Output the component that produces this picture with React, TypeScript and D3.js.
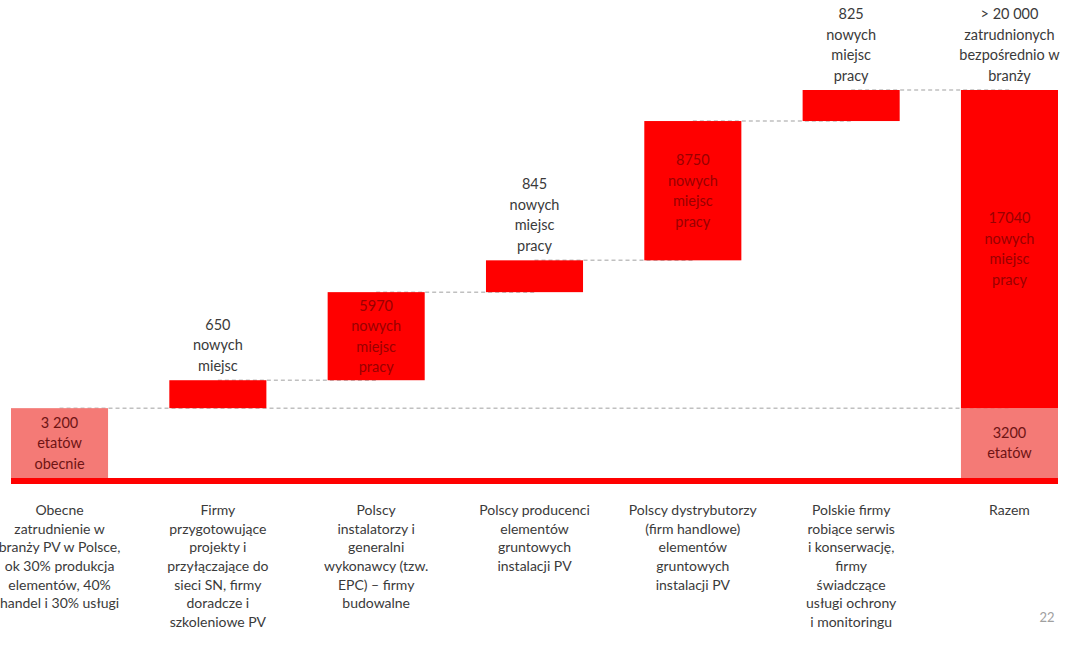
import React from "react";
import * as d3 from "d3";

// ---- data ----
const categories = [
  ["Obecne", "zatrudnienie  w", "branży PV w Polsce,", "ok 30% produkcja", "elementów, 40%", "handel i 30% usługi"],
  ["Firmy", "przygotowujące", "projekty i", "przyłączające do", "sieci SN, firmy", "doradcze i", "szkoleniowe PV"],
  ["Polscy", "instalatorzy i", "generalni", "wykonawcy  (tzw.", "EPC) – firmy", "budowalne"],
  ["Polscy producenci", "elementów", "gruntowych", "instalacji PV"],
  ["Polscy dystrybutorzy", "(firm handlowe)", "elementów", "gruntowych", "instalacji PV"],
  ["Polskie firmy", "robiące serwis", "i konserwację,", "firmy", "świadczące", "usługi ochrony", "i monitoringu"],
  ["Razem"],
];

// drawn step sizes (share of the total column height, as pictured — chart is not to scale)
const plottedSteps = [18.0, 7.2, 22.7, 8.2, 35.9, 8.0];

const stepTexts = [
  ["3 200", "etatów", "obecnie"],
  ["650", "nowych", "miejsc"],
  ["5970", "nowych", "miejsc", "pracy"],
  ["845", "nowych", "miejsc", "pracy"],
  ["8750", "nowych", "miejsc", "pracy"],
  ["825", "nowych", "miejsc", "pracy"],
];
const stepTextInside = [true, false, true, false, true, false];

const totalTopText = ["> 20 000", "zatrudnionych", "bezpośrednio w", "branży"];
const totalNewText = ["17040", "nowych", "miejsc", "pracy"];
const totalBaseText = ["3200", "etatów"];
const pageNumber = "22";

// ---- styles ----
const W = 1071;
const H = 645;
const RED = "#FF0000";
const SALMON = "#F47A76";
const FONT = "Lato, 'Open Sans', sans-serif";
const GREY_TEXT = "#3A3A3A";

export default function App() {
  const x = d3
    .scaleBand<number>()
    .domain(d3.range(categories.length))
    .range([11, 1058])
    .paddingInner(0.387)
    .paddingOuter(0);

  const total = d3.sum(plottedSteps);
  const y = d3.scaleLinear().domain([0, total]).range([478, 90]);

  const cum: number[] = [];
  plottedSteps.reduce((acc, v, i) => {
    cum[i] = acc;
    return acc + v;
  }, 0);

  const bw = x.bandwidth();
  const lh = 20.5;
  const last = categories.length - 1;
  const base = plottedSteps[0];

  const centeredLines = (lines: string[], cx: number, cy: number, fill: string, key: string) => {
    const start = cy - ((lines.length - 1) * lh) / 2;
    return (
      <text key={key} textAnchor="middle" fontFamily={FONT} fontSize={14.5} fill={fill}>
        {lines.map((l, j) => (
          <tspan key={j} x={cx} y={start + j * lh} dy="0.35em">
            {l}
          </tspan>
        ))}
      </text>
    );
  };

  const aboveLines = (lines: string[], cx: number, top: number, key: string) => {
    const lastY = top - 14.5;
    return (
      <text key={key} textAnchor="middle" fontFamily={FONT} fontSize={14.5} fill={GREY_TEXT}>
        {lines.map((l, j) => (
          <tspan key={j} x={cx} y={lastY - (lines.length - 1 - j) * lh} dy="0.35em">
            {l}
          </tspan>
        ))}
      </text>
    );
  };

  const cx = (i: number) => (x(i) as number) + bw / 2;

  return (
    <div style={{ position: "absolute", left: 0, top: 0 }}>
      <svg width={W} height={H} viewBox={`0 0 ${W} ${H}`} style={{ display: "block", background: "#fff" }}>
        {/* connectors */}
        <g stroke="#C0C0C0" strokeWidth={1.5} strokeDasharray="4 3" fill="none">
          <line x1={cx(0)} x2={cx(last)} y1={y(base)} y2={y(base)} />
          {plottedSteps.slice(1).map((v, k) => {
            const i = k + 1;
            const lvl = cum[i] + v;
            return <line key={i} x1={cx(i)} x2={cx(i + 1)} y1={y(lvl)} y2={y(lvl)} />;
          })}
        </g>

        {/* step bars */}
        {plottedSteps.map((v, i) => (
          <rect
            key={i}
            x={x(i)}
            width={bw}
            y={y(cum[i] + v)}
            height={y(cum[i]) - y(cum[i] + v)}
            fill={i === 0 ? SALMON : RED}
          />
        ))}

        {/* total bar */}
        <rect x={x(last)} width={bw} y={y(base)} height={y(0) - y(base)} fill={SALMON} />
        <rect x={x(last)} width={bw} y={y(total)} height={y(base) - y(total)} fill={RED} />

        {/* baseline */}
        <rect x={11} width={1047} y={y(0)} height={6} fill={RED} />

        {/* step labels */}
        {stepTexts.map((lines, i) => {
          const top = y(cum[i] + plottedSteps[i]);
          const bot = y(cum[i]);
          if (stepTextInside[i]) {
            return centeredLines(lines, cx(i), (top + bot) / 2, i === 0 ? "#6E1414" : "#990000", `s${i}`);
          }
          return aboveLines(lines, cx(i), top, `s${i}`);
        })}

        {aboveLines(totalTopText, cx(last), y(total), "tt")}
        {centeredLines(totalNewText, cx(last), (y(total) + y(base)) / 2, "#990000", "tn")}
        {centeredLines(totalBaseText, cx(last), (y(base) + y(0)) / 2, "#6E1414", "tb")}

        {/* category labels */}
        {categories.map((lines, i) => (
          <text key={i} textAnchor="middle" fontFamily={FONT} fontSize={14} fill={GREY_TEXT}>
            {lines.map((l, j) => (
              <tspan key={j} x={cx(i)} y={510 + j * 18.7} dy="0.35em">
                {l}
              </tspan>
            ))}
          </text>
        ))}

        <text x={1047} y={617} dy="0.35em" textAnchor="middle" fontFamily={FONT} fontSize={13} fill="#A0A0A0">
          {pageNumber}
        </text>
      </svg>
    </div>
  );
}
